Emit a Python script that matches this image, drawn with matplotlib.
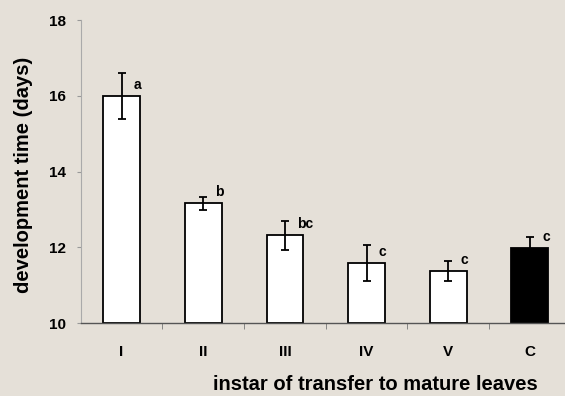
import matplotlib.pyplot as plt
import numpy as np

plt.rcParams['font.family'] = ['Liberation Sans', 'DejaVu Sans']
plt.rcParams['font.weight'] = 'bold'

categories = ['I', 'II', 'III', 'IV', 'V', 'C']
means = [16.0, 13.17, 12.32, 11.58, 11.38, 11.98]
errors = [0.6, 0.17, 0.39, 0.48, 0.27, 0.3]
letters = ['a', 'b', 'bc', 'c', 'c', 'c']
fills = ['white', 'white', 'white', 'white', 'white', 'black']

bg = '#e5e0d8'
fig = plt.figure(figsize=(5.65, 3.96), dpi=100, facecolor=bg)
ax = fig.add_axes([0.143, 0.184, 0.867, 0.765], facecolor=bg)

x = np.arange(len(categories))
ax.bar(x, np.array(means) - 10, bottom=10, width=0.45, color=fills,
       edgecolor='black', linewidth=1.3, zorder=2)
ax.errorbar(x, means, yerr=errors, fmt='none', ecolor='black',
            elinewidth=1.3, capsize=3, capthick=1.3, zorder=3)

# significance letters just above each bar, right of the error bar
for xi, m, s in zip(x, means, letters):
    ax.text(xi + 0.15, m + 0.3, s, fontsize=10, fontweight='bold',
            ha='left', va='center')

ax.set_xlim(-0.5, 5.5)
ax.set_ylim(10, 18)
ax.set_yticks([10, 12, 14, 16, 18])
ax.set_xticks(x)
ax.set_xticklabels(categories)
ax.set_xticks(x[:-1] + 0.5, minor=True)
ax.tick_params(axis='x', which='major', length=0, pad=16, labelsize=11)
ax.tick_params(axis='x', which='minor', length=4, color='#777777', direction='out')
ax.tick_params(axis='y', length=3, color='#999999', pad=8, labelsize=11)

for s in ['top', 'right']:
    ax.spines[s].set_visible(False)
ax.spines['left'].set_color('#aaaaaa')
ax.spines['left'].set_linewidth(0.8)
ax.spines['bottom'].set_color('#555555')
ax.spines['bottom'].set_linewidth(1.0)

ax.set_ylabel('development time (days)', fontsize=14.5, fontweight='bold')
ax.yaxis.set_label_coords(-0.098, 0.49)
ax.set_xlabel('instar of transfer to mature leaves', fontsize=14.5,
              fontweight='bold')
ax.xaxis.set_label_coords(0.602, -0.172)

fig.savefig('out.png', dpi=100, facecolor=bg)
